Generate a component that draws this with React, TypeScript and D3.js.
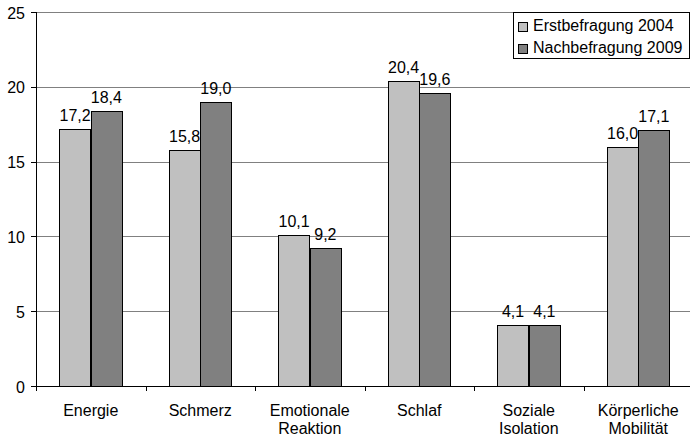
import React from "react";
import * as d3 from "d3";

const categories: string[][] = [
  ["Energie"],
  ["Schmerz"],
  ["Emotionale", "Reaktion"],
  ["Schlaf"],
  ["Soziale", "Isolation"],
  ["Körperliche", "Mobilität"],
];
const seriesNames = ["Erstbefragung 2004", "Nachbefragung 2009"];
const values2004 = [17.2, 15.8, 10.1, 20.4, 4.1, 16.0];
const values2009 = [18.4, 19.0, 9.2, 19.6, 4.1, 17.1];
const yTicks = [0, 5, 10, 15, 20, 25];
const colors = ["#c0c0c0", "#808080"];

const W = 690;
const H = 437;
const left = 36;
const right = 693;
const top = 12;
const bottom = 386;
const font = "'Liberation Sans', Arial, sans-serif";
const fs = 16;

const fmt = (v: number) => v.toFixed(1).replace(".", ",");

export default function App() {
  const keys = categories.map((c) => c.join(" "));
  const x = d3.scaleBand<string>().domain(keys).range([left, right]).padding(0);
  const xs = d3
    .scaleBand<number>()
    .domain([0, 1])
    .range([0, x.bandwidth()])
    .paddingInner(0)
    .paddingOuter(0.75);
  const y = d3.scaleLinear().domain([0, 25]).range([bottom, top]);
  const series = [values2004, values2009];
  const crisp = (v: number) => Math.round(v) + 0.5;

  return (
    <svg
      width={W}
      height={H}
      style={{ position: "absolute", left: 0, top: 0, background: "#fff" }}
      fontFamily={font}
    >
      {/* gridlines */}
      {yTicks
        .filter((t) => t > 0)
        .map((t) => (
          <line
            key={"g" + t}
            x1={left}
            x2={W}
            y1={crisp(y(t))}
            y2={crisp(y(t))}
            stroke="#808080"
            strokeWidth={1}
          />
        ))}
      {/* bars */}
      {keys.map((k, i) =>
        series.map((s, j) => {
          const bx = (x(k) as number) + (xs(j) as number);
          const by = y(s[i]);
          return (
            <g key={k + j}>
              <rect
                x={Math.round(bx) + 0.5}
                y={Math.round(by) + 0.5}
                width={Math.round(xs.bandwidth())}
                height={Math.round(bottom - by)}
                fill={colors[j]}
                stroke="#000"
                strokeWidth={1}
              />
              <text
                x={bx + xs.bandwidth() / 2}
                y={by - 8}
                textAnchor="middle"
                fontSize={fs}
                fill="#000"
              >
                {fmt(s[i])}
              </text>
            </g>
          );
        })
      )}
      {/* y axis */}
      <line x1={crisp(left)} x2={crisp(left)} y1={top} y2={bottom + 1} stroke="#000" />
      {yTicks.map((t) => (
        <g key={"t" + t}>
          <line
            x1={left - 5}
            x2={left}
            y1={crisp(y(t))}
            y2={crisp(y(t))}
            stroke="#000"
          />
          <text
            x={left - 11}
            y={y(t) + 6.5}
            textAnchor="end"
            fontSize={fs}
            fill="#000"
          >
            {t}
          </text>
        </g>
      ))}
      {/* x axis */}
      <line x1={left} x2={W} y1={crisp(bottom)} y2={crisp(bottom)} stroke="#000" />
      {keys.map((k) => (
        <line
          key={"xt" + k}
          x1={crisp(x(k) as number)}
          x2={crisp(x(k) as number)}
          y1={bottom}
          y2={bottom + 5}
          stroke="#000"
        />
      ))}
      {categories.map((lines, i) => {
        const cx = (x(keys[i]) as number) + x.bandwidth() / 2;
        return (
          <text key={"xl" + i} x={cx} y={415.5} textAnchor="middle" fontSize={fs} fill="#000">
            {lines.map((l, li) => (
              <tspan key={li} x={cx} dy={li === 0 ? 0 : 18.5}>
                {l}
              </tspan>
            ))}
          </text>
        );
      })}
      {/* legend */}
      <rect x={513.5} y={12.5} width={176} height={46} fill="#fff" stroke="#000" />
      {seriesNames.map((n, j) => (
        <g key={n}>
          <rect
            x={518.5}
            y={22.5 + j * 22}
            width={9}
            height={9}
            fill={colors[j]}
            stroke="#000"
          />
          <text x={533} y={31 + j * 22} fontSize={fs} fill="#000">
            {n}
          </text>
        </g>
      ))}
    </svg>
  );
}
